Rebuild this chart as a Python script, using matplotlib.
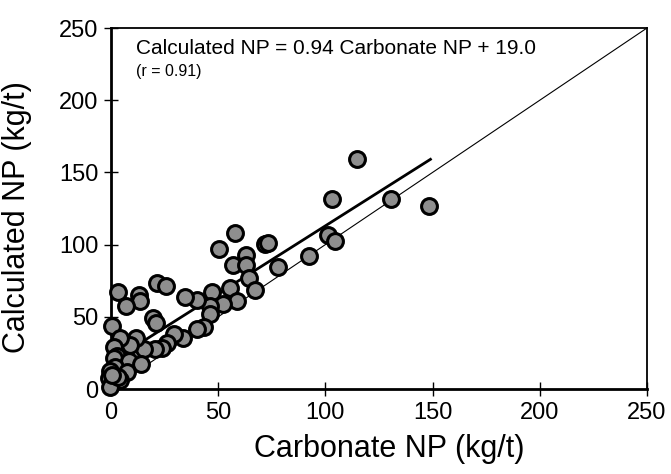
import matplotlib
matplotlib.use("Agg")
import matplotlib.pyplot as plt
import numpy as np

plt.rcParams['font.family'] = ['Liberation Sans', 'DejaVu Sans']

carbonate_np = [148.5, 114.9, 130.6, 103.2, 101.4, 104.5, 92.5, 77.8, 71.8, 73.4,
                57.8, 50.2, 63.0, 56.8, 63.2, 64.4, 67.2, 55.5, 58.7, 52.4,
                47.0, 46.0, 46.3, 40.0, 34.5, 21.3, 25.5, 3.4, 13.2, 13.5,
                6.8, 19.6, 20.8, 0.3, 43.5, 40.0, 33.6, 29.2, 26.0, 23.6,
                20.5, 15.5, 11.5, 8.7, 4.2, 1.3, 2.6, 1.4, 8.3, 13.8,
                1.9, 7.3, -0.5, -1.0, 0.3, 4.0, -0.5, 3.4, 0.5]
calculated_np = [126.6, 159.3, 131.3, 131.3, 106.4, 102.7, 92.1, 84.3, 100.4, 101.3,
                 108.3, 96.7, 92.8, 85.9, 85.9, 77.2, 68.5, 70.0, 60.7, 58.9,
                 67.2, 57.5, 52.2, 61.4, 63.5, 73.6, 71.3, 67.4, 65.1, 61.2,
                 57.5, 49.5, 45.8, 43.5, 43.1, 41.6, 35.5, 38.0, 31.6, 28.2,
                 27.5, 27.5, 35.6, 30.5, 35.4, 29.0, 23.0, 21.3, 19.2, 17.5,
                 15.0, 12.0, 12.6, 7.5, 3.9, 6.5, 1.6, 8.1, 10.0]

slope = 0.94
intercept = 19.0
fit_x = [0, 149]
one_to_one = [0, 250]

ticks = [0, 50, 100, 150, 200, 250]

fig = plt.figure(figsize=(6.71, 4.74), dpi=100)
ax = fig.add_axes([0.1654, 0.1793, 0.7988, 0.7616])

ax.plot(one_to_one, one_to_one, color='black', lw=0.8, zorder=2)
ax.plot(fit_x, [slope * v + intercept for v in fit_x], color='black', lw=2.0, zorder=2)
ax.scatter(carbonate_np, calculated_np, s=130, facecolor='#8e8e8e',
           edgecolor='black', linewidths=2.2, zorder=3, clip_on=False)

ax.set_xlim(0, 250)
ax.set_ylim(0, 250)
ax.set_xticks(ticks)
ax.set_yticks(ticks)
ax.tick_params(direction='inout', length=10, width=1, labelsize=17, pad=4)
for s in ax.spines.values():
    s.set_linewidth(1.3)
ax.spines['bottom'].set_linewidth(2)
ax.spines['left'].set_linewidth(2)

ax.set_xlabel('Carbonate NP (kg/t)', fontsize=22)
ax.set_ylabel('Calculated NP (kg/t)', fontsize=22)
ax.xaxis.set_label_coords(0.52, -0.125)
ax.yaxis.set_label_coords(-0.147, 0.475)

ax.text(11.7, 235.5, 'Calculated NP = 0.94 Carbonate NP + 19.0', fontsize=15,
        ha='left', va='center')
ax.text(11.7, 220.2, '(r = 0.91)', fontsize=11.5, ha='left', va='center')

fig.savefig('out.png', dpi=100)
